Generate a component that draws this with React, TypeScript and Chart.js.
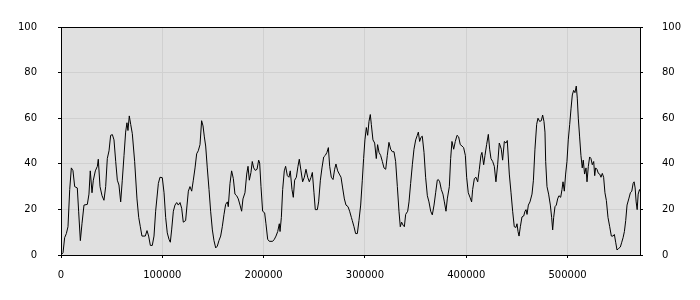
import React, { useEffect, useRef } from "react";
import { Chart, registerables } from "chart.js";

Chart.register(...registerables);

// [position in thousands, value]
const segmentA: [number, number][] = [
  [0, 0], [2.0, 1], [3.6, 7.6], [5.3, 9.4], [6.9, 12.4], [8.6, 28.7], [10.2, 38.2], [11.8, 37],
  [13.5, 30], [16.1, 29.4], [17.4, 19.2], [19.1, 6.3], [20.7, 13.7], [22.7, 21.9], [26.0, 22.2],
  [27.6, 26.7], [28.9, 36.9], [30.6, 27.3], [31.9, 32.8], [33.9, 36.9], [35.9, 38.9], [36.8, 42],
  [38.5, 30], [40.5, 26], [42.4, 24], [44.1, 30], [45.7, 42.3], [47.4, 45.7], [49.0, 52.5],
  [50.7, 52.8], [52.3, 50.5], [54.0, 41], [55.6, 32.8], [57.2, 30.7], [58.9, 23.3], [60.5, 32.8],
  [62.2, 43.7], [63.8, 53.9], [65.1, 58], [66.1, 54.6], [67.4, 61], [68.8, 57.3], [70.4, 53.2],
  [72.7, 41], [75.0, 24.6], [76.7, 16.5], [78.3, 12.4], [79.9, 8.3], [83.2, 8.3], [84.9, 10.7],
  [86.5, 8.3], [88.2, 4.2], [90.1, 4.2], [91.8, 8.3], [93.4, 19.2],
];

const segmentB: [number, number][] = [
  [96.1, 31.4], [97.7, 34.1], [100.0, 33.9], [101.7, 27.3], [103.3, 16.5], [104.9, 9.7],
  [106.6, 6.9], [107.9, 5.6], [109.2, 11], [110.9, 19.2], [112.5, 21.9], [114.2, 23],
  [115.8, 21.9], [117.5, 23], [119.1, 20.5], [120.7, 14.4], [123.0, 15.1], [124.4, 21.9],
  [125.7, 28], [127.3, 30], [129.0, 28], [130.6, 32.8], [132.3, 38.2], [133.9, 44.4],
  [135.5, 45.7], [137.2, 48.4], [138.8, 58.9], [140.2, 56.6], [141.5, 51.8], [142.8, 47.8],
  [144.4, 38.2], [146.1, 28.7], [147.7, 19.2], [149.4, 11], [151.0, 6.3], [152.7, 3.1],
  [154.3, 3.9], [155.9, 6.3], [157.6, 8.3], [159.2, 12.4], [160.9, 17.8], [162.5, 22.2],
  [164.2, 23.3], [165.1, 21.2], [166.8, 31.4], [168.4, 36.9], [170.1, 33.5], [171.7, 26.7],
  [173.4, 26], [175.0, 24.6], [176.7, 21.9], [178.3, 19.2], [179.6, 24.6], [181.6, 27.3],
  [183.3, 35.5], [184.6, 38.9], [185.9, 32.8], [187.5, 36.2], [188.8, 41], [190.2, 38.2],
];

const segmentC: [number, number][] = [
  [191.8, 37.1], [193.5, 37.6], [195.1, 41.6], [196.1, 40.3], [197.4, 30], [199.0, 19.2],
  [201.0, 18.5], [202.3, 13.7], [204.0, 6.9], [205.6, 6], [208.9, 6], [210.6, 6.9],
  [212.2, 8.3], [213.9, 10.3], [215.5, 13.7], [216.2, 10.3], [217.5, 16.5], [218.8, 28.7],
  [220.4, 36.9], [221.7, 38.9], [223.4, 34.8], [225.0, 34.1], [226.3, 36.9], [228.0, 28.7],
  [229.3, 25.3], [230.6, 32.8], [232.3, 34.1], [233.9, 38.9], [235.2, 42], [236.9, 36.9],
  [238.5, 32.1], [240.2, 34.1], [241.8, 37.6], [243.5, 34.1], [245.1, 32.1], [246.8, 34.1],
  [248.1, 36.2], [249.7, 27.3], [251.0, 19.9], [253.0, 19.9], [254.3, 23.3], [256.0, 32.8],
  [257.6, 38.2], [259.3, 43], [260.9, 43.7], [262.5, 45], [263.9, 47.1], [265.2, 38.9],
  [266.8, 34.1], [268.5, 33.1], [270.1, 37.6], [271.4, 39.9], [273.1, 36.9], [274.7, 35.5],
  [276.4, 34.1], [278.0, 29.4], [279.7, 24.6], [281.3, 21.9], [283.3, 21.2], [284.9, 19.2],
  [286.6, 16.5],
];

const segmentD: [number, number][] = [
  [287.5, 15.1], [289.2, 12.4], [290.8, 9.4], [292.5, 9.4], [294.1, 15.1], [295.8, 21.9],
  [297.4, 32.8], [298.7, 42.3], [300.0, 50.5], [301.4, 55.9], [302.7, 52.5], [304.0, 58.6],
  [305.3, 61.6], [306.3, 57.3], [307.9, 50.5], [309.6, 49.1], [311.2, 42.3], [312.5, 48.4],
  [313.9, 45], [315.5, 43.7], [317.2, 41], [318.8, 38.2], [320.5, 37.6], [322.1, 43.7],
  [323.7, 49.4], [325.4, 46.4], [327.0, 45.3], [328.7, 45.3], [330.3, 41], [332.0, 30],
  [333.6, 19.2], [334.9, 12.4], [336.2, 14.4], [337.6, 13.1], [338.9, 12.4], [340.2, 17.8],
  [342.2, 19.2], [343.5, 23.3], [345.1, 31.4], [346.8, 39.6], [348.4, 46.4], [350.1, 50.5],
  [351.7, 52.5], [352.7, 53.9], [354.0, 49.8], [355.3, 51.6], [356.6, 52.1], [358.3, 45],
  [359.9, 34.1], [361.6, 26], [363.2, 23.3], [364.9, 19.2], [366.5, 17.6], [368.2, 21.9],
  [369.8, 27.3], [371.4, 32.8], [372.4, 33.1], [373.8, 32.1], [375.4, 28.7], [377.0, 26.7],
  [378.4, 23.3], [380.0, 19.2], [381.3, 24.6],
];

const segmentE: [number, number][] = [
  [383.3, 30], [384.6, 42.3], [385.9, 49.8], [387.6, 46.4], [389.2, 49.8], [390.9, 52.5],
  [392.5, 51.8], [394.1, 48.4], [395.8, 47.8], [397.4, 47.1], [399.1, 43.7], [400.4, 34.1],
  [402.0, 27.3], [403.7, 25.3], [405.3, 23.3], [406.3, 28.7], [408.0, 33.5], [409.6, 34.1],
  [411.3, 32.1], [412.9, 37.6], [414.5, 43.7], [415.5, 45], [417.2, 39.6], [418.5, 43.7],
  [420.1, 48.4], [421.8, 52.9], [423.1, 46.4], [424.4, 42.3], [426.1, 41], [427.7, 38.9],
  [429.3, 32.1], [431.0, 39.6], [432.6, 49.1], [433.6, 47.8], [434.6, 46.4], [435.9, 41.6],
  [437.6, 49.8], [439.2, 49.1], [440.5, 50.2], [442.5, 35.5], [444.2, 27.3], [445.8, 19.2],
  [447.4, 12.4], [449.1, 12.1], [450.1, 13.7], [451.1, 10.3], [452.1, 8.3], [453.4, 12.4],
  [455.0, 16.7], [456.7, 17.1], [458.0, 19.2], [459.0, 19.9], [460.0, 17.8], [461.3, 21.9],
  [462.9, 23.3], [464.9, 26.7], [466.3, 32.8], [467.8, 46.4], [469.5, 57.3], [470.8, 60],
  [472.4, 58.6], [474.1, 58.9], [475.4, 61.4], [476.7, 58.6], [477.7, 53.9],
];

const segmentF: [number, number][] = [
  [478.4, 41], [479.7, 30], [481.3, 26.7], [483.0, 21.9], [484.3, 16.5], [485.3, 11],
  [486.3, 16.5], [487.6, 21.2], [488.9, 21.9], [490.2, 24.6], [491.5, 26], [493.2, 25.3],
  [494.5, 28.7], [495.5, 32.1], [496.8, 28], [498.1, 35.5], [499.4, 41], [500.7, 50.5],
  [502.1, 57.3], [503.4, 64.1], [504.7, 70.2], [506.0, 72.2], [507.3, 71.2], [508.6, 74.1],
  [509.6, 68.8], [510.6, 60], [511.9, 51.8], [513.2, 43.7], [514.5, 38.2], [515.5, 41.6],
  [516.8, 35.5], [518.2, 38.2], [519.2, 32.1], [520.5, 38.9], [521.8, 43], [523.1, 42.3],
  [524.4, 39.6], [525.8, 41], [526.8, 34.8], [527.7, 38.2], [529.0, 37.6], [530.4, 35.8],
  [531.7, 35.5], [533.0, 34.1], [534.3, 35.8], [535.6, 34.1], [536.9, 27.3], [538.3, 23.9],
  [539.9, 16.5], [541.6, 12.4], [543.2, 8.3], [544.9, 8.3], [546.2, 9], [547.5, 5.6],
  [548.8, 2.2], [550.5, 2.9], [552.1, 3.5], [553.5, 5.6], [554.8, 7.6], [556.1, 10.3],
  [557.4, 15.1], [558.7, 21.9], [560.4, 24.6], [562.0, 27.3], [563.4, 28], [564.7, 31.4],
  [565.7, 32.1], [566.7, 29.4], [567.7, 23.3], [568.7, 19.9], [569.7, 26.7], [571.0, 28.7],
  [571.5, 28],
];

const xTickValues = [0, 100000, 200000, 300000, 400000, 500000];
const yMin = 0;
const yMax = 100;
const yStep = 20;
const xMin = 0;
const xMax = 571500;

const FONT = { family: "'DejaVu Sans', Verdana, sans-serif", size: 10 };

export default function App() {
  const ref = useRef<HTMLCanvasElement | null>(null);

  useEffect(() => {
    document.body.style.margin = "0";
    const canvas = ref.current;
    if (!canvas) return;

    const points = [...segmentA, ...segmentB, ...segmentC, ...segmentD, ...segmentE, ...segmentF].map(
      ([k, v]) => ({ x: k * 1000, y: v })
    );

    const areaPlugin = {
      id: "areaPlugin",
      beforeDraw(chart: any) {
        const { ctx, chartArea } = chart;
        ctx.save();
        ctx.fillStyle = "#e0e0e0";
        ctx.fillRect(chartArea.left, chartArea.top, chartArea.right - chartArea.left, chartArea.bottom - chartArea.top);
        ctx.restore();
      },
      afterDraw(chart: any) {
        const { ctx, chartArea } = chart;
        ctx.save();
        ctx.fillStyle = "#000";
        ctx.fillRect(Math.round(chartArea.left) - 1, Math.round(chartArea.top), Math.round(chartArea.right - chartArea.left) + 1, 1);
        ctx.restore();
      },
    };

    const chart = new Chart(canvas, {
      type: "line",
      data: {
        datasets: [
          {
            data: points,
            borderColor: "#000",
            borderWidth: 1,
            pointRadius: 0,
            tension: 0,
            fill: false,
          },
        ],
      },
      options: {
        animation: false,
        responsive: false,
        devicePixelRatio: 1,
        layout: { padding: { top: 10, left: 0, right: 0, bottom: 0 } },
        plugins: { legend: { display: false }, tooltip: { enabled: false }, title: { display: false } },
        scales: {
          x: {
            type: "linear",
            min: xMin,
            max: xMax,
            afterBuildTicks: (s: any) => {
              s.ticks = xTickValues.map((v) => ({ value: v }));
            },
            afterFit: (s: any) => {
              s.height = 45;
            },
            ticks: {
              maxRotation: 0,
              autoSkip: false,
              padding: 11,
              color: "#000",
              font: FONT,
              callback: (v: any) => String(v),
            },
            grid: { color: "#d0d0d0", tickColor: "#000", tickLength: 3 },
            border: { display: true, color: "#000", width: 1 },
          },
          y: {
            position: "left",
            min: yMin,
            max: yMax,
            afterFit: (s: any) => {
              s.width = 61;
            },
            ticks: { stepSize: yStep, padding: 21, color: "#000", font: FONT },
            grid: { color: "#d0d0d0", tickColor: "#000", tickLength: 3 },
            border: { display: true, color: "#000", width: 1 },
          },
          y2: {
            position: "right",
            min: yMin,
            max: yMax,
            afterFit: (s: any) => {
              s.width = 60;
            },
            ticks: { stepSize: yStep, padding: 19, color: "#000", font: FONT },
            grid: { drawOnChartArea: false, tickColor: "#000", tickLength: 3 },
            border: { display: true, color: "#000", width: 1 },
          },
        },
      },
      plugins: [areaPlugin],
    });

    return () => chart.destroy();
  }, []);

  return (
    <div style={{ width: 700, height: 300 }}>
      <canvas ref={ref} width={700} height={300} style={{ display: "block", width: 700, height: 300 }} />
    </div>
  );
}
